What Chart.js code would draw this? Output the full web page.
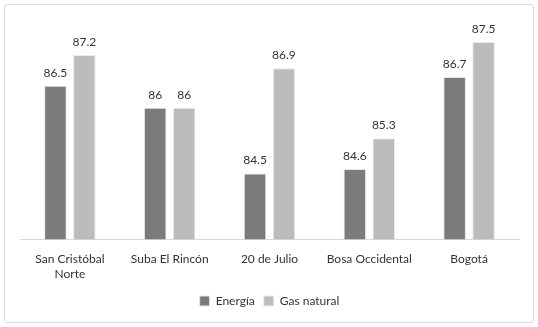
<!DOCTYPE html>
<html>
<head>
<meta charset="utf-8">
<script src="https://cdn.jsdelivr.net/npm/chart.js@4/dist/chart.umd.min.js"></script>
<style>
  html, body { margin: 0; padding: 0; background: #fff; }
  #frame {
    position: absolute; left: 4px; top: 4px; width: 528px; height: 317px;
    border: 1px solid #dcdcdc; border-radius: 3px;
  }
  #wrap { position: absolute; left: 0; top: 0; width: 538px; height: 327px; }
</style>
</head>
<body>
<div id="frame"></div>
<div id="wrap"><canvas id="chart"></canvas></div>
<script>
const categories = [["San Cristóbal", "Norte"], "Suba El Rincón", "20 de Julio", "Bosa Occidental", "Bogotá"];
const energia = [86.5, 86, 84.5, 84.6, 86.7];
const gasNatural = [87.2, 86, 86.9, 85.3, 87.5];

const font = "Lato, 'Open Sans', sans-serif";

// etiquetas de valor encima de cada barra
const valueLabels = {
  id: 'valueLabels',
  afterDatasetsDraw(chart) {
    const ctx = chart.ctx;
    ctx.save();
    ctx.font = '12px ' + font;
    ctx.fillStyle = '#333';
    ctx.textAlign = 'center';
    ctx.textBaseline = 'bottom';
    chart.data.datasets.forEach((ds, i) => {
      chart.getDatasetMeta(i).data.forEach((bar, j) => {
        ctx.fillText(String(ds.data[j]), bar.x, bar.y - 7);
      });
    });
    ctx.restore();
  }
};

new Chart(document.getElementById('chart'), {
  type: 'bar',
  data: {
    labels: categories,
    datasets: [
      {
        label: 'Energía',
        data: energia,
        backgroundColor: '#7b7b7c',
        borderColor: '#e6e6e6',
        borderWidth: 1,
        borderSkipped: 'bottom'
      },
      {
        label: 'Gas natural',
        data: gasNatural,
        backgroundColor: '#bcbcbe',
        borderColor: '#ececec',
        borderWidth: 1,
        borderSkipped: 'bottom'
      }
    ]
  },
  options: {
    responsive: true,
    maintainAspectRatio: false,
    animation: false,
    datasets: { bar: { categoryPercentage: 0.58, barPercentage: 0.78 } },
    layout: { padding: { left: 20, right: 19, top: 20, bottom: 10 } },
    scales: {
      y: { display: false, min: 83, max: 88 },
      x: {
        grid: { display: false },
        border: { color: '#d9d9d9' },
        ticks: { color: '#333', font: { family: font, size: 12 }, padding: 5, maxRotation: 0 }
      }
    },
    plugins: {
      tooltip: { enabled: false },
      legend: {
        position: 'bottom',
        labels: {
          color: '#333',
          font: { family: font, size: 12 },
          boxWidth: 10,
          boxHeight: 10,
          padding: 9,
          useBorderRadius: false
        }
      }
    }
  },
  plugins: [valueLabels]
});
</script>
</body>
</html>
